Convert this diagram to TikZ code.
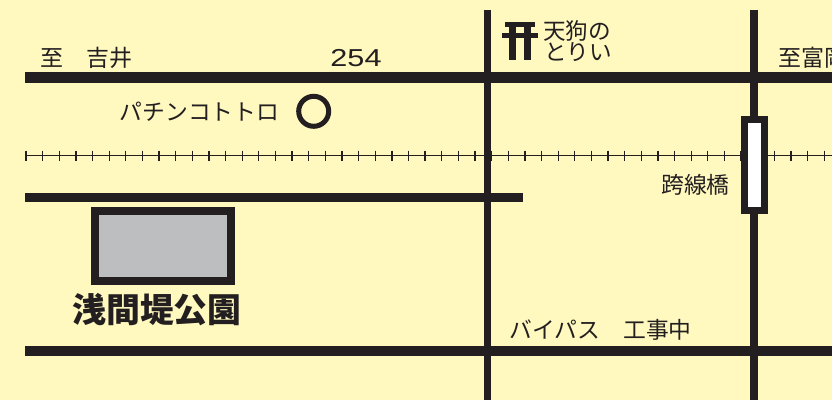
\documentclass[tikz,border=0pt]{standalone}
\usepackage{fontspec}
\setmainfont{Noto Sans CJK JP}
\newfontfamily\latinfont{Liberation Sans}
\definecolor{bgc}{HTML}{FFF8BF}
\definecolor{inkc}{HTML}{231F20}
\definecolor{parkc}{HTML}{BCBEC0}
\tikzset{
 road/.style={draw=inkc,line width=#1},
 lbl/.style={inner sep=0pt,text=inkc,font=\fontsize{#1}{#1}\selectfont},
}
\begin{document}
\begin{tikzpicture}[x=1pt,y=-1pt]
\useasboundingbox (0,0) rectangle (832,400);
\clip (0,0) rectangle (832,400);
\fill[bgc] (0,0) rectangle (832,400);
\coordinate (t1) at (25,77.5); \coordinate (t2) at (832,77.5);
\coordinate (m1) at (25,197.5); \coordinate (m2) at (523,197.5);
\coordinate (b1) at (25,351); \coordinate (b2) at (832,351);
\coordinate (v1a) at (487.5,10); \coordinate (v1b) at (487.5,400);
\coordinate (v2a) at (754,10); \coordinate (v2b) at (754,400);
\coordinate (r1) at (25,155.3); \coordinate (r2) at (832,155.3);
\draw[inkc,line width=1.3pt] (r1) -- (r2);
\foreach \i in {0,...,48}{
  \draw[inkc,line width=1.3pt] ({26+\i*16.63},150.5) -- ({26+\i*16.63},160.5);
}
\draw[road=10.5pt] (t1) -- (t2);
\draw[road=8.5pt] (m1) -- (m2);
\draw[road=10.5pt] (b1) -- (b2);
\draw[road=7.5pt] (v1a) -- (v1b);
\draw[road=7.5pt] (v2a) -- (v2b);
% bridge
\node[draw=inkc,fill=white,line width=7pt,minimum width=20pt,minimum height=91pt,inner sep=0pt,outer sep=0pt] (bridge) at (754,165.3) {};
% park
\node[draw=inkc,fill=parkc,line width=8pt,minimum width=136.5pt,minimum height=70.5pt,inner sep=0pt,outer sep=0pt] (park) at (162.8,246.2) {};
% pachinko circle
\node[circle,draw=inkc,line width=5pt,minimum size=30pt,inner sep=0pt,outer sep=0pt] (pc) at (313.7,111.3) {};
% torii
\fill[inkc] (505,22) rectangle (535,26.5);
\fill[inkc] (501.7,33.3) rectangle (538,38.3);
\fill[inkc] (509.3,24) rectangle (516,60);
\fill[inkc] (524.3,24) rectangle (531,60);
% labels
\node[lbl=23,anchor=west] (lyoshii) at (40,58) {至　吉井};
\node[lbl=24,anchor=center,xscale=1.25,font=\fontsize{24.5}{24.5}\selectfont\latinfont] (l254) at (356,58) {254};
\node[lbl=22.6,anchor=west] (ltengu) at (543,31) {天狗の};
\node[lbl=22.6,anchor=west] (ltorii) at (544,52) {とりい};
\node[lbl=23,anchor=west] (ltomi) at (778,58) {至富岡};
\node[lbl=22.8,anchor=west] (lpach) at (119.5,112) {パチンコトトロ};
\node[lbl=22.8,anchor=west] (lbridge) at (661,185) {跨線橋};
\node[lbl=33,anchor=west,font=\fontsize{33.9}{33.9}\bfseries\selectfont] (lpark) at (72,310) {浅間堤公園};
\node[lbl=22.8,anchor=west] (lbypass) at (509.5,330) {バイパス　工事中};
\end{tikzpicture}
\end{document}
